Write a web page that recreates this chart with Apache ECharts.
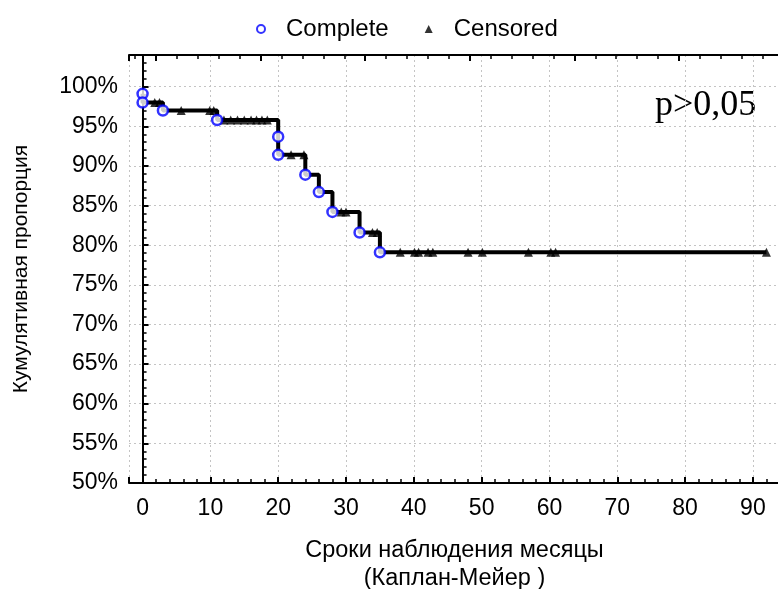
<!DOCTYPE html>
<html>
<head>
	<meta charset="utf-8" />
	<title></title>
	<script src="https://cdn.jsdelivr.net/npm/echarts@6/dist/echarts.min.js"></script>
</head>
<body style="margin:0">
	<div id="main" style="width:778px;height:589px;"></div>
<script>
	// Kaplan-Meier curve: step points (months, %)
	var stepTime = [0, 0, 3, 11, 20, 20, 24, 26, 28, 32, 35, 92];
	var stepSurv = [99.1, 98.0, 97.0, 95.8, 93.7, 91.4, 88.9, 86.7, 84.2, 81.6, 79.1, 79.1];

	// complete observations (events)
	var completeTime = [0, 0, 3, 11, 20, 20, 24, 26, 28, 32, 35];
	var completeSurv = [99.1, 98.0, 97.0, 95.8, 93.7, 91.4, 88.9, 86.7, 84.2, 81.6, 79.1];

	// censored observations
	var censTime = [1.8, 2.5, 5.7, 9.9, 10.5,
		12, 13, 14, 15, 16, 16.8, 17.6, 18.4,
		21.9, 23.8, 29.3, 30, 33.9, 34.6,
		38, 40.1, 40.7, 42.1, 42.8, 48, 50.1, 56.9, 60.2, 60.9, 92];
	var censSurv = [98.0, 98.0, 97.0, 97.0, 97.0,
		95.8, 95.8, 95.8, 95.8, 95.8, 95.8, 95.8, 95.8,
		91.4, 91.4, 84.2, 84.2, 81.6, 81.6,
		79.1, 79.1, 79.1, 79.1, 79.1, 79.1, 79.1, 79.1, 79.1, 79.1, 79.1];

	function pairs(xs, ys) {
		var out = [];
		for (var i = 0; i < xs.length; i++) out.push([xs[i], ys[i]]);
		return out;
	}

	var font = 'Liberation Sans';
	var myChart = echarts.init(document.getElementById('main'));
	var option = {
		animation: false,
		legend: {
			left: 251,
			top: 12,
			itemWidth: 8,
			itemHeight: 8,
			itemGap: 36,
			data: [
				{ name: 'Complete', icon: 'circle' },
				{ name: 'Censored', icon: 'triangle' }
			],
			textStyle: { fontFamily: font, fontSize: 24, color: '#000', padding: [0, 0, 0, 16] }
		},
		grid: { left: 129, top: 55, right: -2, bottom: 106, outerBoundsMode: 'none' },
		xAxis: [{
			type: 'value',
			min: -2,
			max: 94,
			splitNumber: 10,
			name: 'Сроки наблюдения месяцы\n(Каплан-Мейер )',
			nameLocation: 'middle',
			nameGap: 54,
			nameTextStyle: { fontFamily: font, fontSize: 23.5, color: '#000', lineHeight: 28 },
			axisLine: { lineStyle: { color: '#000', width: 2 } },
			axisTick: { inside: true, length: 6, lineStyle: { width: 2 } },
			minorTick: { show: true, splitNumber: 5, length: 4, lineStyle: { color: '#000', width: 1.5 } },
			axisLabel: {
				margin: 14, fontFamily: font, fontSize: 23, color: '#000',
				formatter: function (v) { return v % 10 === 0 ? v : ''; }
			},
			splitLine: { show: true, lineStyle: { color: '#c4c4c4', type: [2, 3], width: 1 } }
		}, {
			type: 'value',
			position: 'top',
			min: -1.29,
			max: 29.83,
			splitNumber: 6,
			axisLine: { show: true, lineStyle: { color: '#000', width: 2 } },
			axisTick: { show: true, inside: true, length: 6, lineStyle: { width: 2 } },
			minorTick: { show: true, splitNumber: 5, length: 4, lineStyle: { color: '#000', width: 1.5 } },
			axisLabel: { show: false },
			splitLine: { show: false }
		}],
		yAxis: {
			type: 'value',
			min: 50,
			max: 104,
			interval: 5,
			name: 'Кумулятивная пропорция',
			nameLocation: 'middle',
			nameGap: 97,
			nameTextStyle: { fontFamily: font, fontSize: 21, color: '#000' },
			axisLine: { show: true, lineStyle: { color: '#000', width: 2 } },
			axisTick: { inside: true, length: 6, lineStyle: { width: 2 } },
			minorTick: { show: true, splitNumber: 5, length: 4, lineStyle: { color: '#000', width: 1.5 } },
			axisLabel: {
				margin: 11, fontFamily: font, fontSize: 23, color: '#000',
				formatter: function (v) { return v % 5 === 0 ? v + '%' : ''; }
			},
			splitLine: { show: true, lineStyle: { color: '#c4c4c4', type: [2, 3], width: 1 } }
		},
		graphic: [{
			type: 'text',
			left: 655,
			top: 88,
			style: { text: 'p>0,05', fontFamily: 'Liberation Serif', fontSize: 36, fill: '#000' }
		}],
		series: [{
			name: 'curve',
			type: 'line',
			step: 'end',
			showSymbol: false,
			z: 2,
			lineStyle: { color: '#000', width: 4 },
			data: pairs(stepTime, stepSurv)
		}, {
			name: 'Censored',
			type: 'scatter',
			symbol: 'triangle',
			symbolSize: 9,
			z: 3,
			itemStyle: { color: '#000' },
			data: pairs(censTime, censSurv)
		}, {
			name: 'Complete',
			type: 'scatter',
			symbol: 'circle',
			symbolSize: 10,
			z: 4,
			itemStyle: { color: '#fff', borderColor: '#0000ff', borderWidth: 2.5 },
			data: pairs(completeTime, completeSurv)
		}]
	};
	myChart.setOption(option);
</script>
</body>
</html>
